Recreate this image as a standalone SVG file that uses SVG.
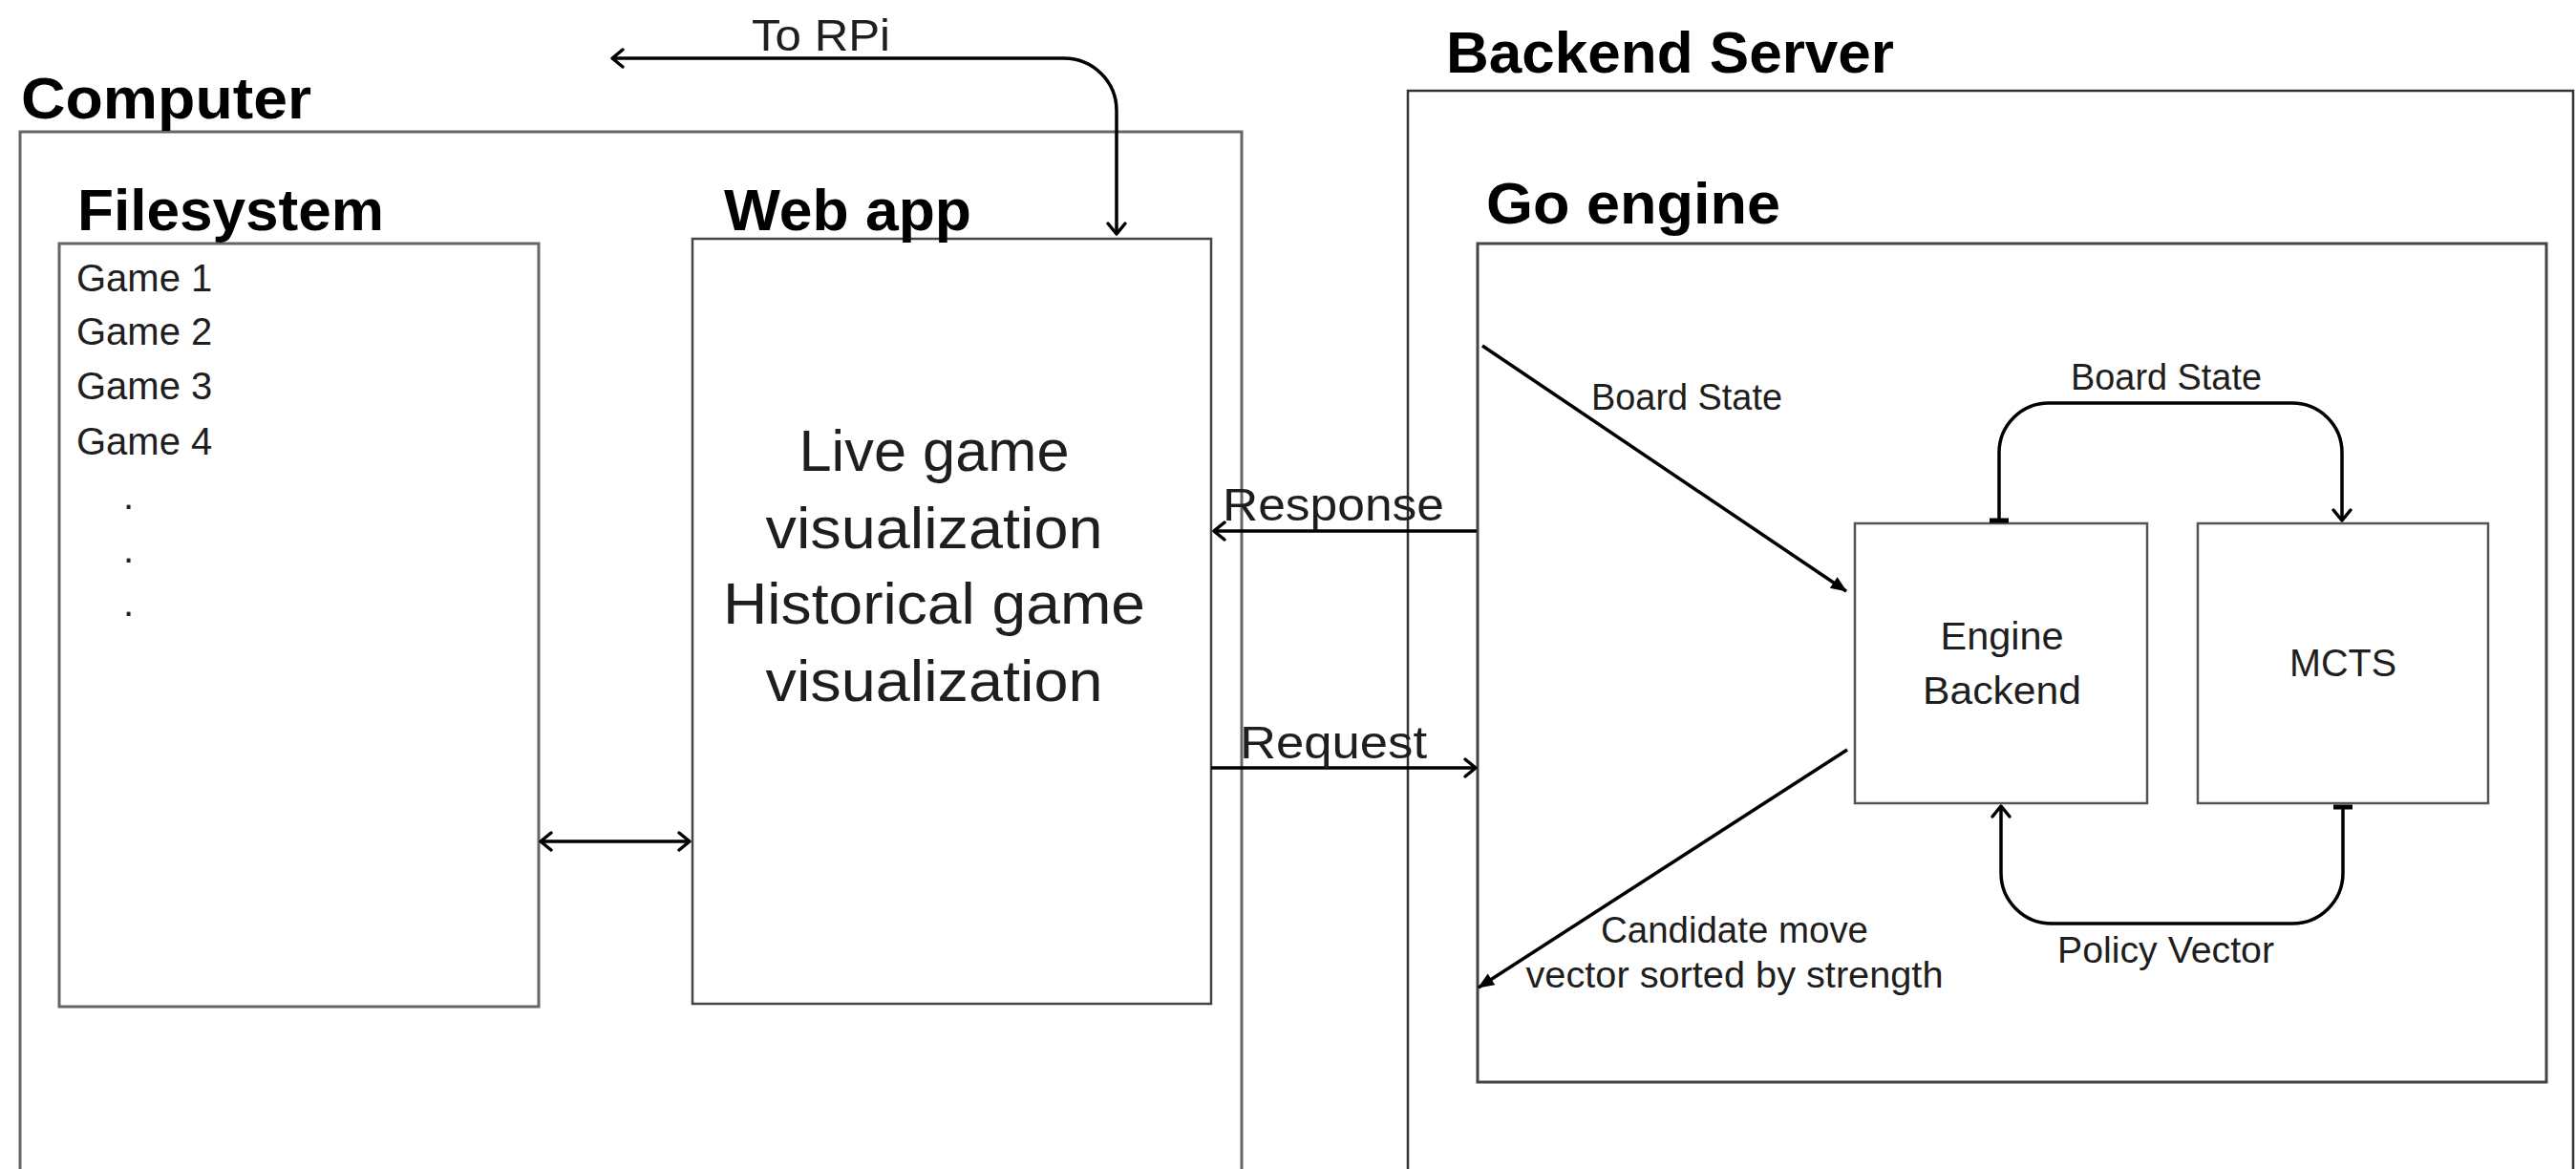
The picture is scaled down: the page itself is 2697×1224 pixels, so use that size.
<svg xmlns="http://www.w3.org/2000/svg" width="2697" height="1224" viewBox="0 0 2697 1224">
<style>
.box{fill:none;stroke:#555;stroke-width:2.5}
.title{font-family:"Liberation Sans",Arial,sans-serif;font-weight:bold;font-size:62px;fill:#000}
.lbl{font-family:"Liberation Sans",Arial,sans-serif;fill:#1e1e1e}
.c{text-anchor:middle}
.con{fill:none;stroke:#000;stroke-width:3.5;stroke-linecap:butt;stroke-linejoin:round}
</style>
<defs>
<marker id="chev" markerUnits="userSpaceOnUse" markerWidth="40" markerHeight="40" viewBox="-20 -20 40 40" refX="0" refY="0" orient="auto-start-reverse" overflow="visible">
<path d="M-11,-9 L0,0 L-11,9" fill="none" stroke="#000" stroke-width="3.5" stroke-linecap="round" stroke-linejoin="round"/>
</marker>
<marker id="tri" markerUnits="userSpaceOnUse" markerWidth="40" markerHeight="40" viewBox="-20 -20 40 40" refX="0" refY="0" orient="auto" overflow="visible">
<path d="M-16,-7 L1,0 L-16,7 Z" fill="#000"/>
</marker>
<marker id="bar" markerUnits="userSpaceOnUse" markerWidth="40" markerHeight="40" viewBox="-20 -20 40 40" refX="0" refY="0" orient="auto" overflow="visible">
<rect x="-2.5" y="-10" width="5" height="20" fill="#000"/>
</marker>
</defs>

<g id="computer">
<rect class="box" x="21" y="138" width="1279" height="1200" style="stroke:#666;stroke-width:3"/>
<text class="title" x="22" y="124" textLength="304" lengthAdjust="spacingAndGlyphs">Computer</text>
</g>

<g id="filesystem">
<rect class="box" x="62" y="255" width="502" height="799" style="stroke:#666;stroke-width:3"/>
<text class="title" x="81" y="241" textLength="321" lengthAdjust="spacingAndGlyphs">Filesystem</text>
<text class="lbl" x="80" y="305" font-size="40">Game 1</text>
<text class="lbl" x="80" y="361" font-size="40">Game 2</text>
<text class="lbl" x="80" y="418" font-size="40">Game 3</text>
<text class="lbl" x="80" y="476" font-size="40">Game 4</text>
<text class="lbl" x="129" y="533" font-size="40">.</text>
<text class="lbl" x="129" y="589" font-size="40">.</text>
<text class="lbl" x="129" y="645" font-size="40">.</text>
</g>

<g id="webapp">
<rect class="box" x="725" y="250" width="543" height="801" style="stroke:#444;stroke-width:2.5"/>
<text class="title" x="758" y="241" textLength="259" lengthAdjust="spacingAndGlyphs">Web app</text>
<text class="lbl c" x="978" y="493" font-size="62" textLength="283" lengthAdjust="spacingAndGlyphs">Live game</text>
<text class="lbl c" x="978" y="574" font-size="62" textLength="353" lengthAdjust="spacingAndGlyphs">visualization</text>
<text class="lbl c" x="978" y="653" font-size="62" textLength="442" lengthAdjust="spacingAndGlyphs">Historical game</text>
<text class="lbl c" x="978" y="734" font-size="62" textLength="353" lengthAdjust="spacingAndGlyphs">visualization</text>
</g>

<g id="backend-server">
<rect class="box" x="1474" y="95" width="1220" height="1200" style="stroke:#333;stroke-width:2.5"/>
<text class="title" x="1514" y="76" textLength="469" lengthAdjust="spacingAndGlyphs">Backend Server</text>
</g>

<g id="go-engine">
<rect class="box" x="1547" y="255" width="1119" height="878" style="stroke:#444;stroke-width:3"/>
<text class="title" x="1556" y="234" textLength="308" lengthAdjust="spacingAndGlyphs">Go engine</text>
</g>

<g id="engine-backend">
<rect class="box" x="1942" y="548" width="306" height="293"/>
<text class="lbl c" x="2096" y="680" font-size="41" textLength="129" lengthAdjust="spacingAndGlyphs">Engine</text>
<text class="lbl c" x="2096" y="737" font-size="41" textLength="166" lengthAdjust="spacingAndGlyphs">Backend</text>
</g>

<g id="mcts">
<rect class="box" x="2301" y="548" width="304" height="293"/>
<text class="lbl c" x="2453" y="708" font-size="40" textLength="112" lengthAdjust="spacingAndGlyphs">MCTS</text>
</g>

<g id="connectors">
<path class="con" d="M641,61 L1114,61 A55,55 0 0 1 1169,116 L1169,245" marker-start="url(#chev)" marker-end="url(#chev)"/>
<text class="lbl" x="787" y="53" font-size="47" textLength="145" lengthAdjust="spacingAndGlyphs">To RPi</text>

<path class="con" d="M566,881 L722,881" marker-start="url(#chev)" marker-end="url(#chev)"/>

<path class="con" d="M1546,556 L1271,556" marker-end="url(#chev)"/>
<text class="lbl" x="1280" y="545" font-size="48" textLength="232" lengthAdjust="spacingAndGlyphs">Response</text>

<path class="con" d="M1268,804 L1545,804" marker-end="url(#chev)"/>
<text class="lbl" x="1298" y="794" font-size="48" textLength="196" lengthAdjust="spacingAndGlyphs">Request</text>

<path class="con" d="M1552,362 L1933,619" marker-end="url(#tri)"/>
<text class="lbl" x="1666" y="429" font-size="38" textLength="200" lengthAdjust="spacingAndGlyphs">Board State</text>

<path class="con" d="M1934,785 L1548,1034" marker-end="url(#tri)"/>
<text class="lbl c" x="1816" y="987" font-size="38" textLength="280" lengthAdjust="spacingAndGlyphs">Candidate move</text>
<text class="lbl c" x="1816" y="1034" font-size="38" textLength="437" lengthAdjust="spacingAndGlyphs">vector sorted by strength</text>

<path class="con" d="M2093,545 L2093,474 A52,52 0 0 1 2145,422 L2400,422 A52,52 0 0 1 2452,474 L2452,545" marker-start="url(#bar)" marker-end="url(#chev)"/>
<text class="lbl" x="2168" y="408" font-size="38" textLength="200" lengthAdjust="spacingAndGlyphs">Board State</text>

<path class="con" d="M2453,845 L2453,914 A53,53 0 0 1 2400,967 L2148,967 A53,53 0 0 1 2095,914 L2095,844" marker-start="url(#bar)" marker-end="url(#chev)"/>
<text class="lbl" x="2154" y="1008" font-size="38" textLength="227" lengthAdjust="spacingAndGlyphs">Policy Vector</text>
</g>
</svg>
